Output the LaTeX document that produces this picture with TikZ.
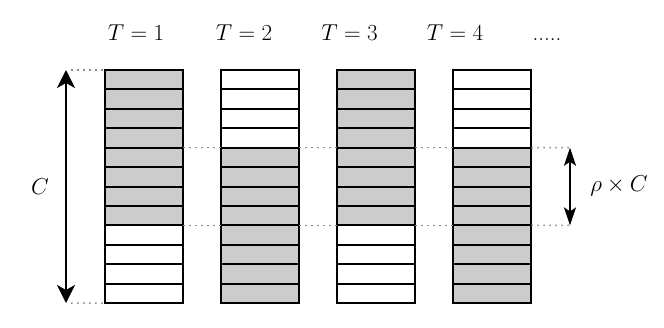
\RequirePackage{fix-cm}
\documentclass[tikz,border=0pt]{standalone}
\usetikzlibrary{arrows.meta}
\definecolor{cellgray}{RGB}{204,204,204}
\definecolor{dotgray}{RGB}{140,140,140}
\begin{document}
\begin{tikzpicture}[x=1pt,y=-1pt,
  cell/.style={draw=black, line width=2pt, minimum width=78pt, minimum height=19.42pt, inner sep=0pt, outer sep=0pt},
  dotline/.style={draw=dotgray, line width=1.5pt, dash pattern=on 1.5pt off 4.5pt},
  dimarrow/.style={draw=black, line width=2pt},
  lbl/.style={font=\fontsize{23}{28}\selectfont, inner sep=0pt}]
\useasboundingbox (0,0) rectangle (664,327);
% columns
\foreach \c in {1,...,4}{
  \foreach \r in {1,...,12}{
    \pgfmathtruncatemacro{\odd}{mod(\c,2)}
    \ifnum\odd=1
      \ifnum\r<9 \def\fc{cellgray}\else\def\fc{white}\fi
    \else
      \ifnum\r<5 \def\fc{white}\else\def\fc{cellgray}\fi
    \fi
    \node[cell, fill=\fc] (c\c-\r) at ({144+116.1*(\c-1)},{70+19.42*(\r-0.5)}) {};
  }
}
% labels
\node[lbl, anchor=base] (t1) at (136,40) {$T=1$};
\node[lbl, anchor=base] (t2) at (244,40) {$T=2$};
\node[lbl, anchor=base] (t3) at (349.5,40) {$T=3$};
\node[lbl, anchor=base] (t4) at (455,40) {$T=4$};
\node[lbl, anchor=base] (tdots) at (547,40) {.....};
% C arrow
\coordinate (ctop) at (66,70);
\coordinate (cbot) at (66,303);
\coordinate (cdt) at (71,70);
\coordinate (cdb) at (71,303);
\draw[dotline] (cdt) -- (c1-1.north west);
\draw[dotline] (cdb) -- (c1-12.south west);
\draw[dimarrow, {Stealth[length=18pt,width=18pt,inset=5pt]}-{Stealth[length=18pt,width=18pt,inset=5pt]}] (ctop) -- (cbot);
\node[lbl] (clabel) at (40,187) {$C$};
% rho arrow
\coordinate (rtop) at (570,147.7);
\coordinate (rbot) at (570,225.4);
\foreach \r in {4,8}{
  \draw[dotline] (c1-\r.south east) -- (c2-\r.south west);
  \draw[dotline] (c2-\r.south east) -- (c3-\r.south west);
  \draw[dotline] (c3-\r.south east) -- (c4-\r.south west);
}
\draw[dotline] (c4-4.south east) -- (rtop);
\draw[dotline] (c4-8.south east) -- (rbot);
\draw[dimarrow, {Stealth[length=18pt,width=12pt,inset=4pt]}-{Stealth[length=18pt,width=12pt,inset=4pt]}] (rtop) -- (rbot);
\node[lbl] (rlabel) at (619,186) {$\rho\times C$};
\end{tikzpicture}
\end{document}
